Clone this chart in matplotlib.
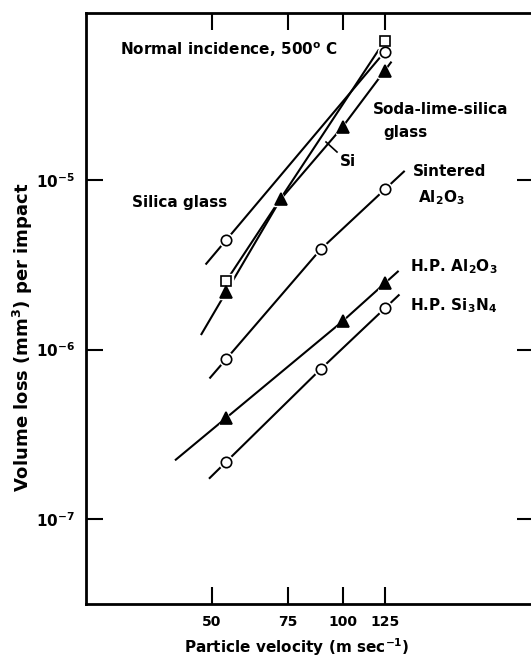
import numpy as np
import matplotlib
matplotlib.use("Agg")
import matplotlib.pyplot as plt

# particle velocity (m/s) and volume loss (mm^3) per impact
silica_v = [54, 125]
silica_loss = [4.43e-6, 5.71e-5]

si_v = [54, 125]
si_loss = [2.54e-6, 6.64e-5]

soda_v = [54, 72, 100, 125]
soda_loss = [2.19e-6, 7.7e-6, 2.06e-5, 4.42e-5]

sint_v = [54, 89, 125]
sint_loss = [8.8e-7, 3.9e-6, 8.8e-6]

hp_al_v = [54, 100, 125]
hp_al_loss = [3.96e-7, 1.47e-6, 2.46e-6]

hp_si_v = [54, 89, 125]
hp_si_loss = [2.18e-7, 7.67e-7, 1.75e-6]

x_ticks = [50, 75, 100, 125]
y_ticks = [1e-7, 1e-6, 1e-5]

plt.rcParams['font.family'] = ['DejaVu Sans']
plt.rcParams['font.weight'] = 'bold'
plt.rcParams['mathtext.default'] = 'bf'

fig = plt.figure(figsize=(5.31, 6.61), dpi=100)
ax = fig.add_axes([86 / 531, 57 / 661, 448 / 531, 591.3 / 661])
ax.set_xscale('log')
ax.set_yscale('log')
ax.set_xlim(25.7, 275.4)
ax.set_ylim(3.16e-8, 9.7e-5)


def extend(v, y, lo, hi):
    # stretch the end segments a little, in log space, like the hand-drawn lines
    lv, ly = np.log10(v), np.log10(y)
    s0 = (ly[1] - ly[0]) / (lv[1] - lv[0])
    s1 = (ly[-1] - ly[-2]) / (lv[-1] - lv[-2])
    lv2 = np.concatenate([[lv[0] - lo], lv, [lv[-1] + hi]])
    ly2 = np.concatenate([[ly[0] - lo * s0], ly, [ly[-1] + hi * s1]])
    return 10 ** lv2, 10 ** ly2


series = [
    (silica_v, silica_loss, 'o', 0.046, 0.0),
    (si_v, si_loss, 's', 0.0, 0.0),
    (soda_v, soda_loss, '^', 0.057, 0.014),
    (sint_v, sint_loss, 'o', 0.037, 0.044),
    (hp_al_v, hp_al_loss, '^', 0.116, 0.03),
    (hp_si_v, hp_si_loss, 'o', 0.038, 0.032),
]

for v, y, m, lo, hi in series:
    lx, ly = extend(v, y, lo, hi)
    ax.plot(lx, ly, color='black', lw=1.5, zorder=2)
for v, y, m, lo, hi in series:
    # white halo so the line breaks around each marker
    ax.plot(v, y, ls='none', marker=m, ms=10, mfc='white', mec='white', zorder=3)
for v, y, m, lo, hi in series:
    fc = 'black' if m == '^' else 'white'
    ax.plot(v, y, ls='none', marker=m, ms=7.5 if m != '^' else 8,
            mfc=fc, mec='black', mew=1.2, zorder=4)

ax.set_xticks(x_ticks)
ax.set_xticklabels([str(t) for t in x_ticks])
ax.xaxis.set_minor_locator(matplotlib.ticker.NullLocator())
ax.set_yticks(y_ticks)
ax.set_yticklabels([r'10$^{-7}$', r'10$^{-6}$', r'10$^{-5}$'])
ax.yaxis.set_minor_locator(matplotlib.ticker.NullLocator())
ax.tick_params(direction='in', length=12, width=1.5, top=True, right=True,
               labelsize=10, pad=8)
ax.tick_params(axis='y', labelsize=11)
for sp in ax.spines.values():
    sp.set_linewidth(2)

ax.set_xlabel(r'Particle velocity (m sec$^{-1}$)', fontsize=11, fontweight='bold', va='center')
ax.xaxis.set_label_coords(0.471, -0.073)
ax.set_ylabel(r'Volume loss (mm$^{3}$) per impact', fontsize=13, fontweight='bold', va='center')
ax.yaxis.set_label_coords(-0.14, 0.4515)

tk = dict(fontsize=11, fontweight='bold', transform=ax.transAxes, va='center', ha='left')


def at(px, py):
    return ((px - 86) / 448, (604 - py) / 591.3)


ax.text(*at(120, 50), r'Normal incidence, 500$^{\mathbf{o}}$ C', **tk)
ax.text(*at(373, 110), 'Soda-lime-silica', **tk)
ax.text(*at(383, 133), 'glass', **tk)
ax.text(*at(340, 162), 'Si', **tk)
ax.text(*at(132, 203), 'Silica glass', **tk)
ax.text(*at(413, 171), 'Sintered', **tk)
ax.text(*at(418, 198), r'Al$_2$O$_3$', **tk)
ax.text(*at(410, 267), r'H.P. Al$_2$O$_3$', **tk)
ax.text(*at(410, 306), r'H.P. Si$_3$N$_4$', **tk)
# leader from the Si label to its line
ax.plot(*zip(at(326, 142), at(337, 152)), color='black', lw=1.2, transform=ax.transAxes)

fig.savefig('out.png', dpi=100)
